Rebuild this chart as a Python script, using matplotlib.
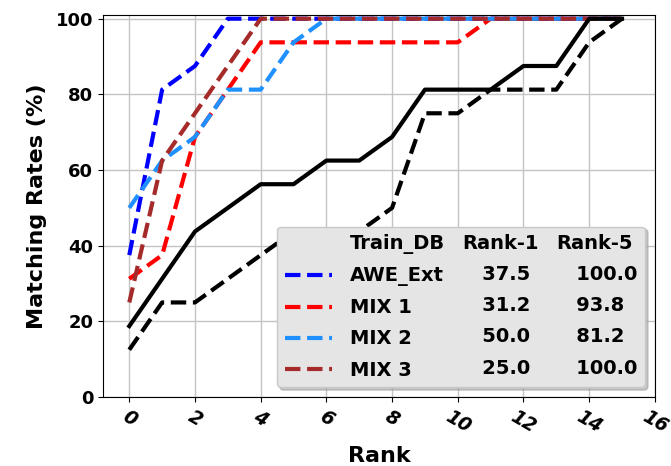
"""Rank curves (CMC) for the ear matching experiment, with a Rank-1 / Rank-5 table in the legend."""
import matplotlib

matplotlib.use("Agg")
import matplotlib.pyplot as plt
from matplotlib.lines import Line2D

ranks = list(range(16))

awe_ext = [37.5, 81.25, 87.5, 100, 100, 100, 100, 100, 100, 100, 100, 100, 100, 100, 100, 100]
mix_1 = [31.25, 37.5, 68.75, 81.25, 93.75, 93.75, 93.75, 93.75, 93.75, 93.75, 93.75, 100, 100, 100, 100, 100]
mix_2 = [50.0, 62.5, 68.75, 81.25, 81.25, 93.75, 100, 100, 100, 100, 100, 100, 100, 100, 100, 100]
mix_3 = [25.0, 62.5, 75.0, 87.5, 100, 100, 100, 100, 100, 100, 100, 100, 100, 100, 100, 100]
black_solid = [18.75, 31.25, 43.75, 50.0, 56.25, 56.25, 62.5, 62.5, 68.75, 81.25, 81.25, 81.25, 87.5, 87.5, 100, 100]
black_dashed = [12.5, 25.0, 25.0, 31.25, 37.5, 43.75, 43.75, 43.75, 50.0, 75.0, 75.0, 81.25, 81.25, 81.25, 93.75, 100]

train_db = ["AWE_Ext", "MIX 1", "MIX 2", "MIX 3"]
rank1 = ["37.5", "31.2", "50.0", "25.0"]
rank5 = ["100.0", "93.8", "81.2", "100.0"]
colors = ["blue", "red", "dodgerblue", "brown"]

fig = plt.figure(figsize=(6.71, 4.66), dpi=100)
ax = fig.add_axes([0.1535, 0.148, 0.8225, 0.82])

handles = []
for ys, c in zip([awe_ext, mix_1, mix_2, mix_3], colors):
    (h,) = ax.plot(ranks, ys, "--", color=c, lw=3)
    handles.append(h)
ax.plot(ranks, black_solid, "-", color="black", lw=3)
ax.plot(ranks, black_dashed, "--", color="black", lw=3)

ax.set_xlim(-0.8, 16)
ax.set_ylim(0, 101)
ax.set_xticks(range(0, 17, 2))
ax.set_yticks(range(0, 101, 20))
ax.grid(True, color="#c4c4c4", lw=1)
ax.set_axisbelow(True)

for lbl in ax.get_yticklabels():
    lbl.set_fontsize(13)
    lbl.set_fontweight("bold")
for lbl in ax.get_xticklabels():
    lbl.set_fontsize(13.5)
    lbl.set_fontweight("bold")
    lbl.set_fontstyle("italic")
    lbl.set_rotation(-30)
    lbl.set_ha("center")

ax.set_xlabel("Rank", fontsize=16, fontweight="bold", labelpad=7)
ax.set_ylabel("Matching Rates (%)", fontsize=16, fontweight="bold", labelpad=6)

# legend laid out as a small table: name column + two blank-handle columns
blank = Line2D([], [], linestyle="none")
leg_handles = [blank] + handles + [blank] * 10
leg_labels = (["Train_DB"] + train_db
              + ["Rank-1"] + ["   " + v for v in rank1]
              + ["Rank-5"] + ["   " + v for v in rank5])
leg = ax.legend(leg_handles, leg_labels, ncol=3, loc="lower right",
                prop={"weight": "bold", "size": 14},
                handlelength=2.4, handletextpad=0.94, columnspacing=-2.45,
                labelspacing=0.62, borderpad=0.4,
                facecolor="#e5e5e5", edgecolor="#c8c8c8", framealpha=1,
                shadow={"color": "#a0a0a0", "alpha": 0.6}, fancybox=True)

fig.savefig("out.png", dpi=100)
